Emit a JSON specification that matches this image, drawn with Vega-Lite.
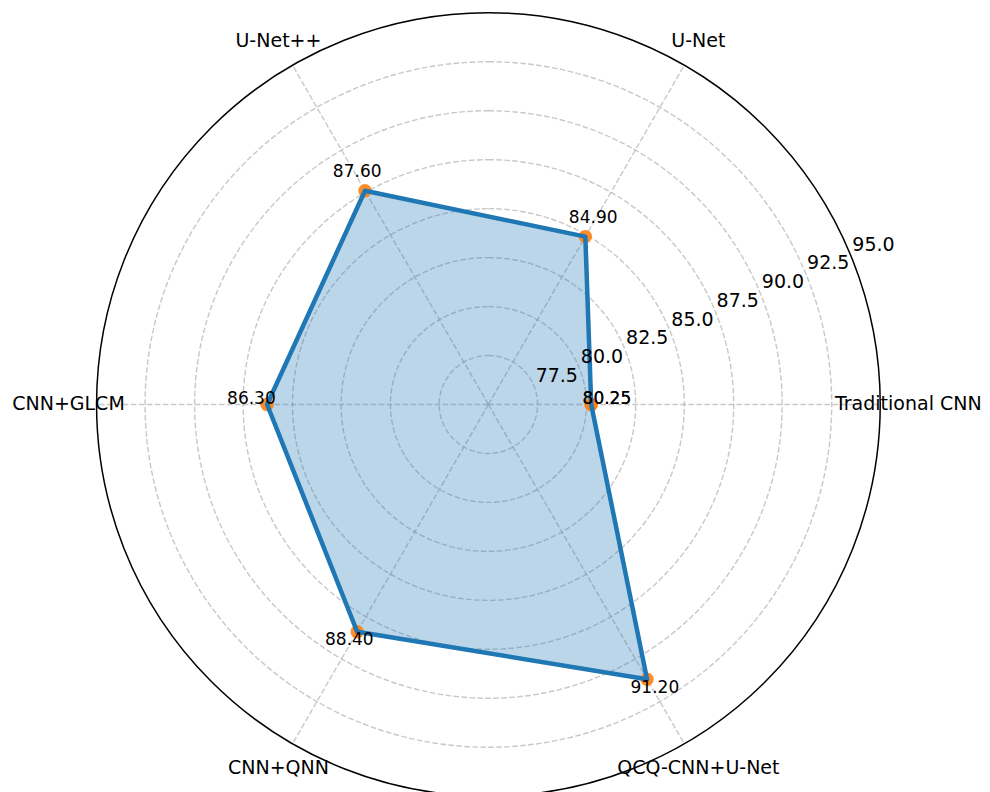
{
  "$schema": "https://vega.github.io/schema/vega-lite/v6.json",
  "width": 990,
  "height": 792,
  "padding": 0,
  "autosize": {"type": "none"},
  "background": "white",
  "config": {"view": {"stroke": null}, "font": "DejaVu Sans", "text": {"font": "DejaVu Sans"}},
  "datasets": {
    "scores": [
      {"model": "Traditional CNN", "accuracy": 80.25},
      {"model": "U-Net", "accuracy": 84.90},
      {"model": "U-Net++", "accuracy": 87.60},
      {"model": "CNN+GLCM", "accuracy": 86.30},
      {"model": "CNN+QNN", "accuracy": 88.40},
      {"model": "QCQ-CNN+U-Net", "accuracy": 91.20},
      {"model": "Traditional CNN", "accuracy": 80.25}
    ],
    "rings": [
      {"tick": 77.5}, {"tick": 80.0}, {"tick": 82.5}, {"tick": 85.0},
      {"tick": 87.5}, {"tick": 90.0}, {"tick": 92.5}, {"tick": 95.0}
    ]
  },
  "layer": [
    {
      "data": {"name": "rings"},
      "transform": [{"filter": "datum.tick < 95"}],
      "mark": {"type": "arc", "theta": 0, "theta2": 6.2832, "filled": false, "fill": null, "stroke": "#b0b0b0", "strokeOpacity": 0.7, "strokeWidth": 1.4, "strokeDash": [5.6, 2.4]},
      "encoding": {
        "x": {"datum": 0, "type": "quantitative", "scale": {"domain": [-24.937, 25.611], "nice": false, "zero": false}, "axis": null},
        "y": {"datum": 0, "type": "quantitative", "scale": {"domain": [-19.786, 20.654], "nice": false, "zero": false}, "axis": null},
        "radius": {"field": "tick", "type": "quantitative", "stack": null, "scale": {"type": "linear", "domain": [75, 95], "range": [0, 391.7], "zero": false, "nice": false}}
      }
    },
    {
      "data": {"name": "scores"},
      "transform": [
        {"window": [{"op": "row_number", "as": "idx"}]},
        {"filter": "datum.idx <= 6"},
        {"calculate": "(datum.idx - 1) * PI / 3", "as": "ang"},
        {"calculate": "0", "as": "o"},
        {"calculate": "20 * cos(datum.ang)", "as": "ex"},
        {"calculate": "20 * sin(datum.ang)", "as": "ey"}
      ],
      "mark": {"type": "rule", "stroke": "#b0b0b0", "strokeOpacity": 0.7, "strokeWidth": 1.4, "strokeDash": [5.6, 2.4]},
      "encoding": {
        "x": {"field": "o", "type": "quantitative", "scale": {"domain": [-24.937, 25.611], "nice": false, "zero": false}, "axis": null},
        "y": {"field": "o", "type": "quantitative", "scale": {"domain": [-19.786, 20.654], "nice": false, "zero": false}, "axis": null},
        "x2": {"field": "ex"},
        "y2": {"field": "ey"}
      }
    },
    {
      "data": {"name": "rings"},
      "transform": [{"filter": "datum.tick >= 95"}],
      "mark": {"type": "arc", "theta": 0, "theta2": 6.2832, "filled": false, "fill": null, "stroke": "black", "strokeWidth": 1.5},
      "encoding": {
        "x": {"datum": 0, "type": "quantitative", "scale": {"domain": [-24.937, 25.611], "nice": false, "zero": false}, "axis": null},
        "y": {"datum": 0, "type": "quantitative", "scale": {"domain": [-19.786, 20.654], "nice": false, "zero": false}, "axis": null},
        "radius": {"field": "tick", "type": "quantitative", "stack": null, "scale": {"type": "linear", "domain": [75, 95], "range": [0, 391.7], "zero": false, "nice": false}}
      }
    },
    {
      "data": {"name": "scores"},
      "transform": [
        {"window": [{"op": "row_number", "as": "idx"}]},
        {"calculate": "(datum.idx - 1) * PI / 3", "as": "ang"},
        {"calculate": "(datum.accuracy - 75) * cos(datum.ang)", "as": "px"},
        {"calculate": "(datum.accuracy - 75) * sin(datum.ang)", "as": "py"}
      ],
      "mark": {"type": "line", "fill": "#1f77b4", "fillOpacity": 0.3, "stroke": "#1f77b4", "strokeOpacity": 0, "strokeWidth": 0},
      "encoding": {
        "x": {"field": "px", "type": "quantitative", "scale": {"domain": [-24.937, 25.611], "nice": false, "zero": false}, "axis": null},
        "y": {"field": "py", "type": "quantitative", "scale": {"domain": [-19.786, 20.654], "nice": false, "zero": false}, "axis": null},
        "order": {"field": "idx", "type": "quantitative"}
      }
    },
    {
      "data": {"name": "scores"},
      "transform": [
        {"window": [{"op": "row_number", "as": "idx"}]},
        {"calculate": "(datum.idx - 1) * PI / 3", "as": "ang"},
        {"calculate": "(datum.accuracy - 75) * cos(datum.ang)", "as": "px"},
        {"calculate": "(datum.accuracy - 75) * sin(datum.ang)", "as": "py"}
      ],
      "mark": {"type": "point", "filled": true, "color": "#ff7f0e", "opacity": 0.9, "size": 180, "strokeWidth": 0},
      "encoding": {
        "x": {"field": "px", "type": "quantitative", "scale": {"domain": [-24.937, 25.611], "nice": false, "zero": false}, "axis": null},
        "y": {"field": "py", "type": "quantitative", "scale": {"domain": [-19.786, 20.654], "nice": false, "zero": false}, "axis": null}
      }
    },
    {
      "data": {"name": "scores"},
      "transform": [
        {"window": [{"op": "row_number", "as": "idx"}]},
        {"calculate": "(datum.idx - 1) * PI / 3", "as": "ang"},
        {"calculate": "(datum.accuracy - 75) * cos(datum.ang)", "as": "px"},
        {"calculate": "(datum.accuracy - 75) * sin(datum.ang)", "as": "py"}
      ],
      "mark": {"type": "line", "color": "#1f77b4", "strokeWidth": 4.5, "strokeJoin": "round", "strokeCap": "round"},
      "encoding": {
        "x": {"field": "px", "type": "quantitative", "scale": {"domain": [-24.937, 25.611], "nice": false, "zero": false}, "axis": null},
        "y": {"field": "py", "type": "quantitative", "scale": {"domain": [-19.786, 20.654], "nice": false, "zero": false}, "axis": null},
        "order": {"field": "idx", "type": "quantitative"}
      }
    },
    {
      "data": {"name": "rings"},
      "transform": [
        {"calculate": "(datum.tick - 75) * cos(PI / 8)", "as": "lx"},
        {"calculate": "(datum.tick - 75) * sin(PI / 8)", "as": "ly"}
      ],
      "mark": {"type": "text", "align": "left", "baseline": "alphabetic", "dx": 2, "dy": -4, "fontSize": 19, "color": "#000000"},
      "encoding": {
        "x": {"field": "lx", "type": "quantitative", "scale": {"domain": [-24.937, 25.611], "nice": false, "zero": false}, "axis": null},
        "y": {"field": "ly", "type": "quantitative", "scale": {"domain": [-19.786, 20.654], "nice": false, "zero": false}, "axis": null},
        "text": {"field": "tick", "type": "quantitative", "format": ".1f"}
      }
    },
    {
      "data": {"name": "scores"},
      "transform": [
        {"window": [{"op": "row_number", "as": "idx"}]},
        {"filter": "datum.idx <= 6"},
        {"calculate": "(datum.idx - 1) * PI / 3", "as": "ang"},
        {"calculate": "21.44 * cos(datum.ang)", "as": "cx"},
        {"calculate": "21.44 * sin(datum.ang)", "as": "cy"}
      ],
      "mark": {"type": "text", "align": "center", "baseline": "middle", "fontSize": 19, "color": "#000000"},
      "encoding": {
        "x": {"field": "cx", "type": "quantitative", "scale": {"domain": [-24.937, 25.611], "nice": false, "zero": false}, "axis": null},
        "y": {"field": "cy", "type": "quantitative", "scale": {"domain": [-19.786, 20.654], "nice": false, "zero": false}, "axis": null},
        "text": {"field": "model", "type": "nominal"}
      }
    },
    {
      "data": {"name": "scores"},
      "transform": [
        {"window": [{"op": "row_number", "as": "idx"}]},
        {"calculate": "(datum.idx - 1) * PI / 3", "as": "ang"},
        {"calculate": "(datum.accuracy - 75 + 0.8) * cos(datum.ang)", "as": "vx"},
        {"calculate": "(datum.accuracy - 75 + 0.8) * sin(datum.ang)", "as": "vy"}
      ],
      "mark": {"type": "text", "align": "center", "baseline": "alphabetic", "fontSize": 17, "color": "#000000"},
      "encoding": {
        "x": {"field": "vx", "type": "quantitative", "scale": {"domain": [-24.937, 25.611], "nice": false, "zero": false}, "axis": null},
        "y": {"field": "vy", "type": "quantitative", "scale": {"domain": [-19.786, 20.654], "nice": false, "zero": false}, "axis": null},
        "text": {"field": "accuracy", "type": "quantitative", "format": ".2f"}
      }
    }
  ]
}
